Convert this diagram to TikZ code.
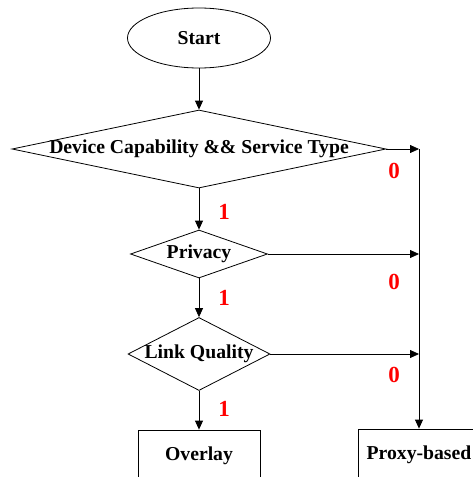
\documentclass[tikz,border=0pt]{standalone}
\usepackage{fontspec}
\setmainfont{Liberation Serif}
\usetikzlibrary{shapes.geometric,arrows.meta}
\begin{document}
\begin{tikzpicture}[x=1pt,y=-1pt,
  every node/.style={font=\fontsize{19.7}{22}\selectfont\bfseries},
  startbox/.style={ellipse,draw,line width=0.8pt,minimum width=143pt,minimum height=60pt,inner sep=0pt},
  decision/.style={diamond,draw,line width=0.8pt,inner sep=0pt},
  outbox/.style={rectangle,draw,line width=0.8pt,minimum width=122pt,minimum height=52pt,inner sep=0pt},
  flow/.style={draw,line width=0.8pt,-{Triangle[length=9pt,width=8pt]}},
  bit/.style={text=red,font=\fontsize{23}{26}\selectfont\bfseries,inner sep=0pt}]
  \clip (0,0) rectangle (473,477);
  \fill[white] (0,0) rectangle (473,477);

  % main column
  \node[startbox] (start) at (199,38) {Start};
  \node[decision,minimum width=374pt,minimum height=78pt,
        label={center:Device Capability \&\& Service Type}] (dev) at (199,149) {};
  \node[decision,minimum width=137pt,minimum height=48pt,
        label={center:Privacy}] (priv) at (199,254) {};
  \node[decision,minimum width=142pt,minimum height=73pt,
        label={center:Link Quality}] (link) at (199,354) {};
  \node[outbox] (overlay) at (199,456) {Overlay};
  \node[outbox] (proxy) at (419,455) {Proxy-based};

  % junctions on the right-hand bus
  \coordinate (j1) at (419,149);
  \coordinate (j2) at (419,254);
  \coordinate (j3) at (419,354);

  % "yes" path
  \draw[flow] (start.south) -- (dev.north);
  \draw[flow] (dev.south) -- (priv.north);
  \draw[flow] (priv.south) -- (link.north);
  \draw[flow] (link.south) -- (overlay.north);

  % "no" branches
  \draw[flow] (dev.east) -- (j1);
  \draw[flow] (priv.east) -- (j2);
  \draw[flow] (link.east) -- (j3);
  \draw[flow] (j1) -- (proxy.north);

  % branch values
  \node[bit] (n1) at (394,171) {0};
  \node[bit] (y1) at (224,212) {1};
  \node[bit] (n2) at (394,282) {0};
  \node[bit] (y2) at (224,298) {1};
  \node[bit] (n3) at (394,375) {0};
  \node[bit] (y3) at (224,409) {1};
\end{tikzpicture}
\end{document}
